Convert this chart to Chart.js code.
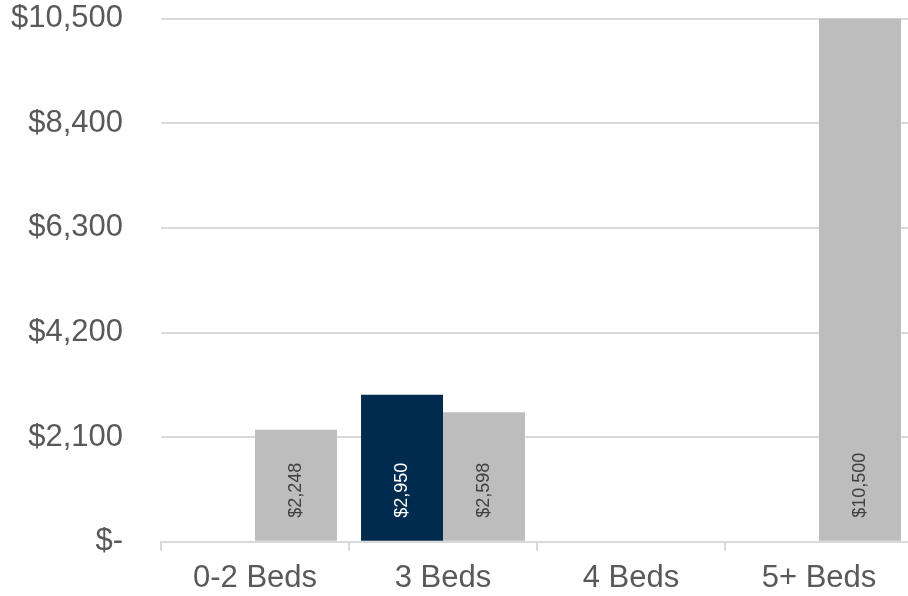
<!DOCTYPE html>
<html>
<head>
<meta charset="utf-8">
<script src="https://cdn.jsdelivr.net/npm/chart.js@4"></script>
<style>
  html, body { margin: 0; padding: 0; background: #fff; overflow: hidden; }
  #wrap { width: 913px; height: 596px; overflow: hidden; }
</style>
</head>
<body>
<div id="wrap"><canvas id="barChart" width="913" height="606"></canvas></div>
<script>
// values
const categories = ['0-2 Beds', '3 Beds', '4 Beds', '5+ Beds'];
const navyValues = [null, 2950, null, null];
const grayValues = [2248, 2598, null, 10500];
const yTicks = [0, 2100, 4200, 6300, 8400, 10500];

function money(v) {
  if (v === 0) return '$-';
  return '$' + v.toLocaleString('en-US');
}

// draws the rotated value labels at the foot of each bar
const barLabels = {
  id: 'barLabels',
  afterDatasetsDraw(chart) {
    const ctx = chart.ctx;
    chart.data.datasets.forEach((ds, i) => {
      const meta = chart.getDatasetMeta(i);
      meta.data.forEach((bar, j) => {
        const v = ds.data[j];
        if (v == null) return;
        ctx.save();
        ctx.translate(bar.x, bar.base - 23);
        ctx.rotate(-Math.PI / 2);
        ctx.font = '18px "Liberation Sans", Arial, sans-serif';
        ctx.fillStyle = ds.labelColor;
        ctx.textAlign = 'left';
        ctx.textBaseline = 'middle';
        ctx.fillText(money(v), 0, 0);
        ctx.restore();
      });
    });
  }
};

const ctx = document.getElementById('barChart').getContext('2d');
new Chart(ctx, {
  type: 'bar',
  data: {
    labels: categories,
    datasets: [
      { data: navyValues, backgroundColor: '#002B4E', labelColor: '#ffffff' },
      { data: grayValues, backgroundColor: '#BCBDBC', labelColor: '#404040' }
    ]
  },
  options: {
    responsive: false,
    animation: false,
    layout: { padding: { top: 1, right: 0, bottom: 0, left: 0 } },
    datasets: { bar: { categoryPercentage: 0.872, barPercentage: 1 } },
    plugins: { legend: { display: false }, tooltip: { enabled: false } },
    scales: {
      x: {
        grid: { drawOnChartArea: false, drawTicks: true, tickLength: 9, color: '#D9D9D9', lineWidth: 2 },
        border: { color: '#D9D9D9', width: 2 },
        ticks: { color: '#595959', padding: 9, font: { size: 31, family: '"Liberation Sans", Arial, sans-serif' } }
      },
      y: {
        min: 0,
        max: 10500,
        afterFit(scale) { scale.width = 161; },
        afterBuildTicks(scale) { scale.ticks = yTicks.map(v => ({ value: v })); },
        grid: { color: '#D9D9D9', lineWidth: 2, drawTicks: true, tickLength: 38, tickColor: 'rgba(0,0,0,0)' },
        border: { display: false },
        ticks: {
          color: '#595959',
          padding: 0,
          font: { size: 31, family: '"Liberation Sans", Arial, sans-serif' },
          callback: v => money(v)
        }
      }
    }
  },
  plugins: [barLabels]
});
</script>
</body>
</html>
